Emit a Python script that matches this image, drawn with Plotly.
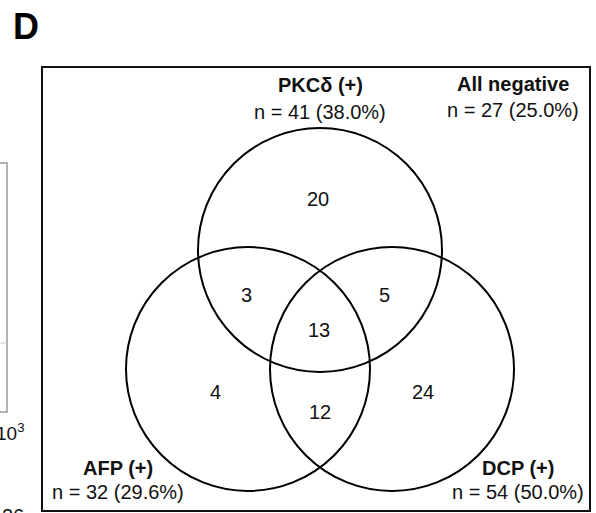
import plotly.graph_objects as go

# ---- data ----
set_names = ["PKCδ (+)", "AFP (+)", "DCP (+)"]
set_counts = [41, 32, 54]
set_pcts = [38.0, 29.6, 50.0]
neg_name = "All negative"
neg_count = 27
neg_pct = 25.0
region_labels = ["PKC only", "AFP only", "DCP only", "PKC&AFP", "PKC&DCP", "AFP&DCP", "all"]
region_counts = [20, 4, 24, 3, 5, 12, 13]

# ---- layout (pixel coordinates) ----
W, H = 596, 513
circle_centers = [(320, 250), (248, 369), (392, 369)]
circle_r = 122
region_pos = {
    "PKC only": (318, 199), "AFP only": (215, 392), "DCP only": (423, 392),
    "PKC&AFP": (246, 295), "PKC&DCP": (384, 295), "AFP&DCP": (320, 412), "all": (319, 330),
}
set_label_pos = [(320, 85, 112), (118, 468, 492), (518, 468, 492)]
neg_label_pos = (513, 84, 110)
FONT = "Arial, Liberation Sans, sans-serif"
FS = 20

fig = go.Figure()

shapes = []
# panel box
shapes.append(dict(type="rect", x0=42, y0=67, x1=590, y1=511,
                   line=dict(color="#111", width=2), fillcolor="rgba(0,0,0,0)"))
for (cx, cy) in circle_centers:
    shapes.append(dict(type="circle", x0=cx - circle_r, x1=cx + circle_r,
                       y0=cy - circle_r, y1=cy + circle_r,
                       line=dict(color="black", width=2)))
# fragment of neighbouring panel at left edge
shapes.append(dict(type="rect", x0=-20, y0=163, x1=7, y1=412,
                   line=dict(color="#9a9a9a", width=1.5), fillcolor="rgba(0,0,0,0)"))
shapes.append(dict(type="line", x0=0, x1=7, y0=343, y1=343,
                   line=dict(color="#c8c8c8", width=1)))

ann = []
for lab, cnt in zip(region_labels, region_counts):
    x, y = region_pos[lab]
    ann.append(dict(x=x, y=y, text=str(cnt), showarrow=False,
                    font=dict(size=FS, color="#111", family=FONT)))
for name, cnt, pct, (x, y1, y2) in zip(set_names, set_counts, set_pcts, set_label_pos):
    ann.append(dict(x=x, y=y1, text=f"<b>{name}</b>", showarrow=False,
                    font=dict(size=FS, color="#111", family=FONT)))
    ann.append(dict(x=x, y=y2, text=f"n = {cnt} ({pct:.1f}%)", showarrow=False,
                    font=dict(size=FS, color="#111", family=FONT)))
x, y1, y2 = neg_label_pos
ann.append(dict(x=x, y=y1, text=f"<b>{neg_name}</b>", showarrow=False,
                font=dict(size=FS, color="#111", family=FONT)))
ann.append(dict(x=x, y=y2, text=f"n = {neg_count} ({neg_pct:.1f}%)", showarrow=False,
                font=dict(size=FS, color="#111", family=FONT)))
# panel letter
ann.append(dict(x=26, y=26, text="<b>D</b>", showarrow=False,
                font=dict(size=36, color="black", family=FONT)))
# fragments of the neighbouring panel
ann.append(dict(x=27, y=432, text="10<sup>3</sup>", showarrow=False, xanchor="right",
                font=dict(size=19, color="#111", family=FONT)))
ann.append(dict(x=26, y=503, text="26", showarrow=False, xanchor="right", yanchor="top",
                font=dict(size=20, color="#111", family=FONT)))

fig.update_layout(
    width=W, height=H, margin=dict(l=0, r=0, t=0, b=0),
    paper_bgcolor="white", plot_bgcolor="white",
    xaxis=dict(range=[0, W], visible=False, fixedrange=True),
    yaxis=dict(range=[H, 0], visible=False, fixedrange=True),
    shapes=shapes, annotations=ann, showlegend=False,
)
fig.write_html("out.html", config={"displayModeBar": False},
               post_script="document.body.style.margin='0';document.body.style.overflow='hidden';")
